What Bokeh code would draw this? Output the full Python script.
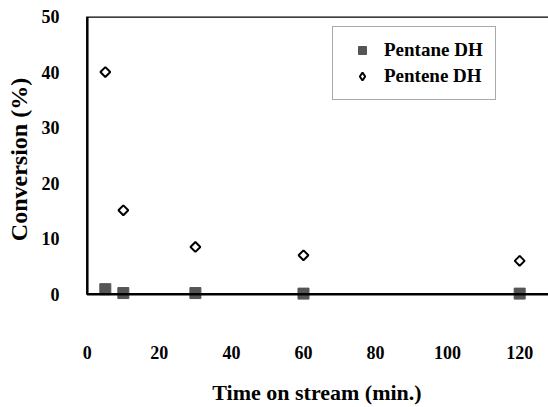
from bokeh.plotting import figure
from bokeh.models import (Range1d, BoxAnnotation, Legend, LegendItem, FixedTicker,
                          ColumnDataSource)
from bokeh.embed import file_html
from bokeh.resources import INLINE
import math

# data
time_min = [5, 10, 30, 60, 120]
pentane_dh = [0.9, 0.2, 0.2, 0.1, 0.1]
pentene_dh = [40.0, 15.1, 8.5, 7.0, 6.0]
x_ticks = [0, 20, 40, 60, 80, 100, 120]
y_ticks = [0, 10, 20, 30, 40, 50]

FONT = "Liberation Serif"

p = figure(width=548, height=407, output_backend="svg", toolbar_location=None,
           x_range=Range1d(-0.5, 128), y_range=Range1d(-1.5, 50),
           min_border_left=85, min_border_right=0, min_border_top=16,
           min_border_bottom=105)
p.outline_line_color = None
p.grid.visible = False
p.background_fill_color = "white"
p.border_fill_color = "white"

# frame box (left, top, bottom lines; right lies outside the window)
box = BoxAnnotation(left=0, right=200, bottom=0, top=50, fill_alpha=0, fill_color=None,
                    line_color="black", line_alpha=1.0, line_width=2.5)
p.add_layout(box)

src1 = ColumnDataSource(dict(x=time_min, y=pentane_dh))
src2 = ColumnDataSource(dict(x=time_min, y=pentene_dh, a=[math.pi / 4] * len(time_min)))

r1 = p.scatter("x", "y", source=src1, marker="square", size=11,
               fill_color="#555555", line_color="#555555")
# diamond used for the legend swatch (hidden beneath the rotated squares)
r2_leg = p.scatter("x", "y", source=src2, marker="diamond", size=9,
                   fill_color="white", line_color="black", line_width=2)
r2 = p.scatter("x", "y", source=src2, marker="square", size=7, angle="a",
               fill_color="white", line_color="black", line_width=2)

for ax in (p.xaxis[0], p.yaxis[0]):
    ax.axis_line_color = None
    ax.major_tick_line_color = None
    ax.minor_tick_line_color = None
    ax.major_label_text_font = FONT
    ax.major_label_text_font_style = "bold"
    ax.major_label_text_font_size = "18px"
    ax.major_label_text_color = "black"
    ax.axis_label_text_font = FONT
    ax.axis_label_text_font_style = "bold"
    ax.axis_label_text_color = "black"

p.xaxis.axis_label_text_font_size = "22px"
p.yaxis.axis_label_text_font_size = "24px"
p.xaxis.ticker = FixedTicker(ticks=x_ticks)
p.yaxis.ticker = FixedTicker(ticks=y_ticks)
p.xaxis.axis_label = "Time on stream (min.)"
p.yaxis.axis_label = "Conversion (%)"
p.xaxis.major_label_standoff = 37
p.xaxis.axis_label_standoff = 18
p.yaxis.major_label_standoff = 20
p.yaxis.axis_label_standoff = 7

legend = Legend(items=[LegendItem(label="Pentane DH", renderers=[r1]),
                       LegendItem(label="Pentene DH", renderers=[r2_leg])],
                location=(247, 202))
legend.border_line_color = "#555555"
legend.border_line_width = 1.5
legend.label_text_font = FONT
legend.label_text_font_style = "bold"
legend.label_text_font_size = "19px"
legend.label_text_color = "black"
legend.padding = 12
legend.spacing = 4
legend.glyph_width = 34
legend.glyph_height = 20
legend.label_standoff = 5
legend.margin = 0
p.add_layout(legend, "center")

open("out.html", "w").write(file_html(p, INLINE))
